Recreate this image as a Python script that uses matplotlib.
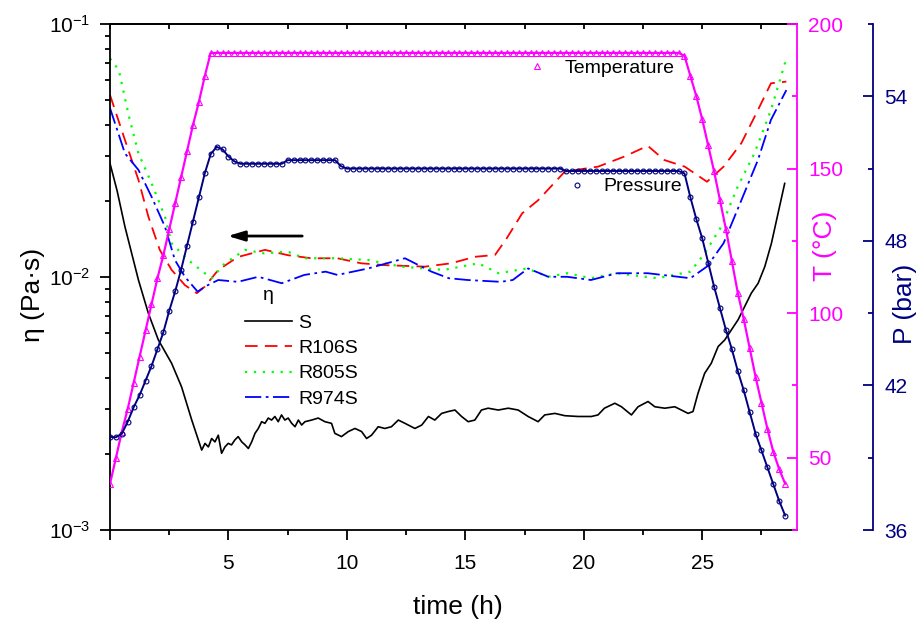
import numpy as np
import matplotlib.pyplot as plt
from matplotlib.ticker import MultipleLocator, LogLocator, NullFormatter, FuncFormatter
from matplotlib.lines import Line2D

plt.rcParams['font.family'] = ['Liberation Sans', 'DejaVu Sans']
plt.rcParams['mathtext.default'] = 'regular'
plt.rcParams['axes.linewidth'] = 1.3

# temperature (degC) and pressure (bar), logged every 15 min
t_log = np.arange(0, 28.51, 0.25)
temp_heat = [41, 50, 59, 67, 76, 85, 94, 103, 112, 120, 129, 138, 147, 156, 165, 173, 182, 190]
temp_hold = [190, 190, 190, 190, 190, 190, 190, 190, 190, 190,
             190, 190, 190, 190, 190, 190, 190, 190, 190, 190,
             190, 190, 190, 190, 190, 190, 190, 190, 190, 190,
             190, 190, 190, 190, 190, 190, 190, 190, 190, 190,
             190, 190, 190, 190, 190, 190, 190, 190, 190, 190,
             190, 190, 190, 190, 190, 190, 190, 190, 190, 190,
             190, 190, 190, 190, 190, 190, 190, 190, 190, 190,
             190, 190, 190, 190, 190, 190, 190, 190, 190]
temp_cool = [189, 182, 175, 167, 158, 149, 139, 129, 118, 107, 98, 88, 78, 69, 60, 52, 46, 41]
temp = temp_heat + temp_hold + temp_cool

pres = [39.86, 39.85, 40.0, 40.5, 41.1, 41.6, 42.2, 42.8, 43.5, 44.2,
        45.1, 45.9, 46.8, 47.8, 48.8, 49.8, 50.8, 51.6, 51.9, 51.8,
        51.5, 51.3, 51.2, 51.2, 51.2, 51.2, 51.2, 51.2, 51.2, 51.2,
        51.35, 51.35, 51.35, 51.35, 51.35, 51.35, 51.35, 51.35, 51.35, 51.1,
        51.0, 51.0, 51.0, 51.0, 51.0, 51.0, 51.0, 51.0, 51.0, 51.0,
        51.0, 51.0, 51.0, 51.0, 51.0, 51.0, 51.0, 51.0, 51.0, 51.0,
        51.0, 51.0, 51.0, 51.0, 51.0, 51.0, 51.0, 51.0, 51.0, 51.0,
        51.0, 51.0, 51.0, 51.0, 51.0, 51.0, 51.0, 50.9, 50.9, 50.9,
        50.9, 50.9, 50.9, 50.9, 50.9, 50.9, 50.9, 50.9, 50.9, 50.9,
        50.9, 50.9, 50.9, 50.9, 50.9, 50.9, 50.9, 50.8, 49.8, 48.9,
        48.1, 47.1, 46.1, 45.2, 44.3, 43.5, 42.6, 41.8, 40.9, 40.0,
        39.3, 38.6, 37.9, 37.2, 36.6]

# viscosity (Pa.s)
t_S = [0.0, 0.3, 0.63, 1.2, 1.62, 2.04, 2.6, 3.02, 3.45, 3.87,
       4.01, 4.15, 4.29, 4.43, 4.57, 4.71, 4.85, 4.99, 5.13, 5.27,
       5.41, 5.56, 5.70, 5.84, 5.98, 6.12, 6.26, 6.40, 6.54, 6.68,
       6.82, 6.96, 7.10, 7.24, 7.38, 7.52, 7.67, 7.81, 7.95, 8.09,
       8.23, 8.51, 8.79, 9.07, 9.35,
       9.49, 9.77, 10.06, 10.34, 10.62, 10.83, 11.04, 11.32, 11.60, 11.88,
       12.17, 12.45, 12.87, 13.16, 13.44, 13.71, 14.00, 14.28, 14.56, 14.84,
       15.12, 15.40, 15.68, 15.96, 16.39, 16.81, 17.23, 17.65, 18.07, 18.35,
       18.78, 19.20, 19.76, 20.32, 20.6, 20.87, 21.31, 21.59, 22.01, 22.29,
       22.71, 23.0, 23.42, 23.84, 24.12, 24.4, 24.61, 24.82, 25.1, 25.38,
       25.67, 25.95, 26.23, 26.51, 26.79, 27.07, 27.36, 27.64, 27.92, 28.2,
       28.48]
eta_S = [0.0281, 0.0219, 0.0158, 0.00973, 0.00718, 0.00564, 0.00456, 0.00368, 0.00272, 0.00207,
         0.00220, 0.00213, 0.00230, 0.00223, 0.00237, 0.00201, 0.00213, 0.00220, 0.00217, 0.00227,
         0.00234, 0.00223, 0.00217, 0.00210, 0.00223, 0.00241, 0.00252, 0.00268, 0.00264, 0.00277,
         0.00272, 0.00281, 0.00268, 0.00285, 0.00272, 0.00277, 0.00264, 0.00256, 0.00272, 0.00260,
         0.00268, 0.00272, 0.00277, 0.00268, 0.00264,
         0.00241, 0.00234, 0.00245, 0.00252, 0.00245, 0.00230, 0.00237, 0.00256, 0.00252, 0.00256,
         0.00272, 0.00264, 0.00252, 0.00260, 0.00281, 0.00272, 0.00289, 0.00294, 0.00298, 0.00281,
         0.00268, 0.00272, 0.00298, 0.00303, 0.00298, 0.00303, 0.00298, 0.00281, 0.00268, 0.00285,
         0.00289, 0.00283, 0.00281, 0.00281, 0.00285, 0.00303, 0.00317, 0.00307, 0.00285, 0.00307,
         0.00322, 0.00307, 0.00303, 0.00307, 0.00298, 0.00289, 0.00294, 0.00347, 0.00416, 0.00456,
         0.00531, 0.00564, 0.00618, 0.00677, 0.00764, 0.00863, 0.00945, 0.01099, 0.01359, 0.01786,
         0.02344]

t_R106 = [0.0, 0.63, 1.2, 1.62, 2.1, 2.6, 3.16, 3.66, 4.0, 4.57, 5.4, 6.54, 7.5, 8.5, 9.6,
          10.6, 11.6, 13.3, 14.4, 15.4, 16.25, 16.7, 17.4, 18.07, 19.2, 20.6, 21.7, 22.7,
          23.4, 24.26, 25.2, 25.9, 26.65, 27.35, 27.9, 28.55]
eta_R106 = [0.0524, 0.0348, 0.0242, 0.0173, 0.0128, 0.01067, 0.00929, 0.00863, 0.00916, 0.01067,
            0.0120, 0.0128, 0.0122, 0.01186, 0.01186, 0.01133, 0.01114, 0.01099, 0.01133, 0.01202,
            0.01222, 0.0140, 0.01786, 0.0201, 0.0261, 0.0273, 0.0299, 0.0330, 0.0290, 0.0273,
            0.0238, 0.0273, 0.0338, 0.0457, 0.0583, 0.0592]

t_R805 = [0.0, 0.37, 0.8, 1.2, 1.76, 2.32, 2.6, 3.3, 4.0, 4.3, 4.85, 5.7, 6.5, 7.5, 8.2,
          9.6, 10.9, 12.3, 13.3, 14.1, 15.55, 16.4, 17.6, 18.5, 19.3, 20.3, 21.4, 23.1,
          24.5, 25.1, 25.8, 26.5, 27.2, 27.9, 28.55]
eta_R805 = [0.0731, 0.0658, 0.0431, 0.0308, 0.0234, 0.0173, 0.0136, 0.01167, 0.01035, 0.00989,
            0.01133, 0.0128, 0.0124, 0.0126, 0.01186, 0.01186, 0.01167, 0.01099, 0.01081, 0.01067,
            0.01133, 0.01035, 0.01081, 0.01002, 0.01035, 0.00989, 0.01035, 0.00989, 0.0105, 0.0124,
            0.0158, 0.0228, 0.0308, 0.0457, 0.0731]

t_R974 = [0.0, 0.63, 1.2, 1.76, 2.32, 2.74, 3.16, 3.7, 4.0, 4.57, 5.4, 6.26, 7.25, 8.2, 9.1,
          9.6, 10.9, 12.45, 13.57, 14.3, 15.1, 16.5, 17.0, 17.65, 18.5, 19.3, 20.3, 21.4,
          22.7, 24.5, 25.2, 25.9, 26.65, 27.35, 27.9, 28.55]
eta_R974 = [0.0465, 0.0308, 0.0265, 0.0207, 0.0158, 0.01167, 0.01002, 0.00875, 0.00916, 0.00973,
            0.00957, 0.01002, 0.00945, 0.01019, 0.0105, 0.01019, 0.01081, 0.01186, 0.0105, 0.00989,
            0.00973, 0.00957, 0.00973, 0.01081, 0.01002, 0.01002, 0.00973, 0.01035, 0.01035, 0.00989,
            0.0110, 0.0136, 0.0201, 0.0290, 0.0418, 0.0548]

magenta = '#FF00FF'
navy = '#000080'

fig = plt.figure(figsize=(9.23, 6.22), dpi=100)
ax = fig.add_axes([0.1192, 0.1479, 0.7443, 0.8135])

ax.plot(t_S, eta_S, color='black', lw=1.2, label='S')
ax.plot(t_R106, eta_R106, color='red', lw=1.3, ls=(0, (7, 4)), label='R106S')
ax.plot(t_R805, eta_R805, color='#00FF00', lw=1.6, ls=(0, (1, 3)), label='R805S')
ax.plot(t_R974, eta_R974, color='blue', lw=1.3, ls=(0, (9, 2.5, 1.5, 2.5)), label='R974S')

ax.set_yscale('log')
ax.set_ylim(1e-3, 1e-1)
ax.set_xlim(0, 29)
ax.xaxis.set_major_locator(MultipleLocator(5))
ax.xaxis.set_minor_locator(MultipleLocator(2.5))
ax.xaxis.set_major_formatter(FuncFormatter(lambda v, p: '' if v == 0 else '%d' % v))
ax.yaxis.set_major_locator(LogLocator(base=10))
ax.yaxis.set_minor_locator(LogLocator(base=10, subs=np.arange(2, 10)))
ax.yaxis.set_minor_formatter(NullFormatter())
ax.tick_params(which='both', direction='out', labelsize=15, width=1.3)
ax.tick_params(which='major', length=7)
ax.tick_params(which='minor', length=3.5)
ax.tick_params(axis='x', pad=10)
ax.tick_params(axis='y', pad=7)
ax.spines['right'].set_visible(False)

top = ax.secondary_xaxis('top')
top.xaxis.set_major_locator(MultipleLocator(2.5))
top.tick_params(direction='in', length=3.5, width=1.3, labeltop=False)

ax.set_xlabel('time (h)', fontsize=19)
ax.set_ylabel('η (Pa·s)', fontsize=19)
ax.xaxis.set_label_coords(0.507, -0.128)
ax.yaxis.set_label_coords(-0.095, 0.464)

leg = ax.legend(loc='upper left', bbox_to_anchor=(0.1965, 0.427), frameon=False,
                fontsize=14, handlelength=2.4, handletextpad=0.35, labelspacing=0.4,
                borderpad=0, borderaxespad=0)
ax.text(0.230, 0.464, 'η', transform=ax.transAxes, fontsize=14, ha='center', va='center')

ax.annotate('', xy=(4.85, 0.01452), xytext=(8.23, 0.01452),
            arrowprops=dict(arrowstyle='-|>,head_length=1.0,head_width=0.3', color='black', lw=2))

# temperature axis
axT = ax.twinx()
axT.plot(t_log, temp, color=magenta, lw=1.6, marker='^', ms=4, mfc='none', mec=magenta, mew=0.8)
axT.set_ylim(25, 200)
axT.yaxis.set_major_locator(MultipleLocator(50))
axT.yaxis.set_minor_locator(MultipleLocator(25))
axT.tick_params(which='both', direction='in', colors=magenta, labelsize=15, width=1.3, pad=8)
axT.tick_params(which='major', length=7)
axT.tick_params(which='minor', length=3.5)
for s in ['left', 'top', 'bottom']:
    axT.spines[s].set_visible(False)
axT.spines['right'].set_color(magenta)
axT.set_ylabel('T (°C)', fontsize=19, color=magenta)
axT.yaxis.set_label_coords(1.0233, 0.561)
axT.legend([Line2D([], [], ls='none', marker='^', ms=4, mfc='none', mec=magenta, mew=0.8)],
           ['Temperature'], loc='upper left', bbox_to_anchor=(0.608, 0.931), frameon=False,
           fontsize=14, handlelength=1.0, handletextpad=0.9, borderpad=0, borderaxespad=0)

# pressure axis
axP = ax.twinx()
axP.plot(t_log, pres, color=navy, lw=1.4, marker='o', ms=3.5, mfc='none', mec=navy, mew=0.8)
axP.set_ylim(36, 57)
axP.yaxis.set_major_locator(MultipleLocator(6))
axP.yaxis.set_minor_locator(MultipleLocator(3))
axP.tick_params(which='both', direction='in', colors=navy, labelsize=15, width=1.3, pad=8)
axP.tick_params(which='major', length=7)
axP.tick_params(which='minor', length=3.5)
for s in ['left', 'top', 'bottom']:
    axP.spines[s].set_visible(False)
axP.spines['right'].set_position(('axes', 1.1106))
axP.spines['right'].set_color(navy)
axP.set_ylabel('P (bar)', fontsize=19, color=navy)
axP.yaxis.set_label_coords(1.1397, 0.447)
axP.legend([Line2D([], [], ls='none', marker='o', ms=3.5, mfc='none', mec=navy, mew=0.8)],
           ['Pressure'], loc='upper left', bbox_to_anchor=(0.665, 0.696), frameon=False,
           fontsize=14, handlelength=1.0, handletextpad=0.9, borderpad=0, borderaxespad=0)

fig.savefig('out.png', dpi=100)
